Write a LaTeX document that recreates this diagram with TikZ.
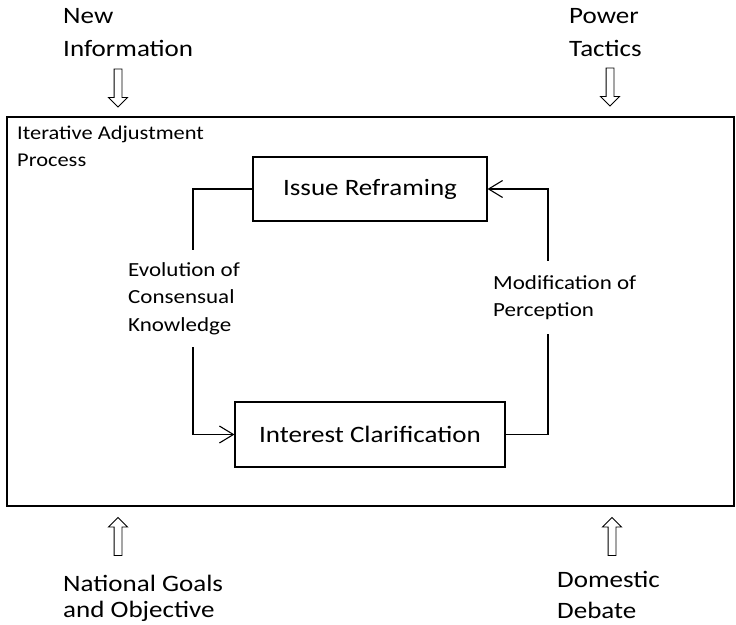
\documentclass[tikz,border=0pt]{standalone}
\usepackage{fontspec}
\setmainfont{Carlito}[FakeStretch=1.15]
\usetikzlibrary{arrows.meta,shapes.arrows}

\begin{document}
\begin{tikzpicture}[x=1pt,y=-1pt,>={Straight Barb[length=14pt,width=17pt]}]
	\tikzset{every node/.style={inner sep=0pt},
		big/.style={font=\fontsize{23.5}{33}\selectfont},
		small/.style={font=\fontsize{20}{27.5}\selectfont},
		stagebox/.style={draw,line width=1.1pt,big,minimum height=64pt},
		inarrow/.style={single arrow,draw,line width=0.9pt,minimum height=38pt,inner sep=3.5pt,single arrow head extend=5.5pt},
		conn/.style={line width=1.1pt,->},
		loopnote/.style={small,fill=white,align=left,anchor=north west,inner xsep=2pt,inner ysep=12pt}}
	\useasboundingbox (0,0) rectangle (736,624);
	% outer frame
	\node[draw,line width=1.2pt,minimum width=727pt,minimum height=389pt] (adjframe) at (370.5,311.5) {};
	\node[align=left,anchor=north west,font=\fontsize{19.5}{27}\selectfont] (adjlabel) at (17,126) {Iterative Adjustment\\Process};
	% the loop
	\node[stagebox,minimum width=234pt] (reframe) at (370,189) {Issue Reframing};
	\node[stagebox,minimum width=270pt,minimum height=65pt] (clarify) at (370,434.5) {Interest Clarification};
	\coordinate (lft) at (193,300);
	\coordinate (rgt) at (548,300);
	\draw[conn] (reframe.west) -- (reframe.west -| lft) -- (clarify.west -| lft) -- (clarify.west);
	\draw[conn] (clarify.east) -- (clarify.east -| rgt) -- (reframe.east -| rgt) -- (reframe.east);
	\node[loopnote] (evol) at (126,250) {Evolution of\\Consensual\\Knowledge};
	\node[loopnote,inner ysep=14pt] (modif) at (491,261) {Modification of\\Perception};
	% inputs
	\node[big,align=left,anchor=north west] (newinfo) at (63,8) {New\\Information};
	\node[big,align=left,anchor=north west] (power) at (569,8) {Power\\Tactics};
	\node[align=left,anchor=north west,font=\fontsize{23.5}{26}\selectfont] (natgoals) at (63,574.5) {National Goals\\and Objective};
	\node[align=left,anchor=north west,font=\fontsize{23.5}{31}\selectfont] (debate) at (557,571.5) {Domestic\\Debate};
	\node[inarrow,rotate=-90] (arrnew) at (118,86) {};
	\node[inarrow,rotate=-90] (arrpower) at (610,85) {};
	\node[inarrow,rotate=90] (arrgoals) at (118,538.5) {};
	\node[inarrow,rotate=90] (arrdebate) at (612,538.5) {};
\end{tikzpicture}
\end{document}
